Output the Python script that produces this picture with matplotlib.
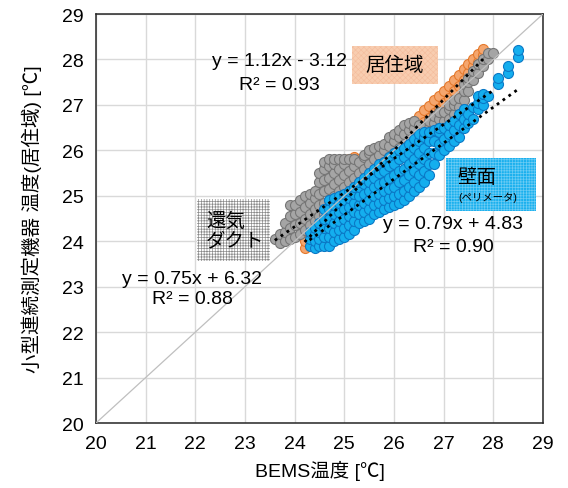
import numpy as np
import matplotlib.pyplot as plt
from matplotlib.patches import Rectangle

plt.rcParams['font.family'] = ['Liberation Sans', 'Noto Sans CJK JP']

# --- data (BEMS temp -> logger temp), grouped by BEMS column ---
orange_cols = [24.2, 24.3, 24.4, 24.5, 24.6, 24.7, 24.8, 24.9, 25.0, 25.1, 25.2, 25.3,
               25.4, 25.5, 25.6, 25.7, 25.8, 25.9, 26.0, 26.1, 26.2, 26.3, 26.4, 26.5,
               26.6, 26.7, 26.8, 26.9, 27.0, 27.1, 27.2, 27.3, 27.4, 27.5, 27.6, 27.7, 27.8]
orange_vals = [[23.85, 24.0], [23.9, 24.1], [24.05, 24.25], [24.2, 24.4], [24.3, 24.55],
               [24.45, 24.65], [24.55, 24.8], [24.3, 24.65, 24.95], [24.8, 25.1],
               [25.0, 25.3, 25.8], [25.1, 25.4, 25.85], [25.25, 25.55, 25.8],
               [25.35, 25.55], [25.45, 25.65], [25.55, 25.75], [25.6, 25.85], [25.7, 25.95],
               [25.75, 26.05], [25.85, 26.15], [25.95, 26.25], [26.05, 26.35], [26.15, 26.5],
               [26.4, 26.65], [26.5, 26.75], [26.62, 26.88], [26.72, 26.98], [26.82, 27.1],
               [26.92, 27.2], [27.05, 27.3], [27.15, 27.42], [27.3, 27.55], [27.42, 27.65],
               [27.55, 27.78], [27.7, 27.9], [27.85, 28.02], [27.95, 28.12], [28.1, 28.22]]

gray_cols = [23.6, 23.7, 23.8, 23.9, 24.0, 24.1, 24.2, 24.3, 24.4, 24.5, 24.6, 24.7,
             24.8, 24.9, 25.0, 25.1, 25.2, 25.3, 25.4, 25.5, 25.6, 25.7, 25.8, 25.9,
             26.0, 26.1, 26.2, 26.3, 26.4, 26.5, 26.6, 26.7, 26.8, 26.9, 27.0, 27.1,
             27.2, 27.3, 27.4, 27.5, 27.6, 27.7, 27.8, 27.9, 28.0]
gray_vals = [[24.05], [23.95, 24.15], [24.0, 24.2, 24.4], [24.05, 24.3, 24.55, 24.8],
             [24.1, 24.35, 24.6, 24.8], [24.15, 24.4, 24.65, 24.9], [24.25, 24.5, 24.75, 25.0],
             [24.35, 24.6, 24.85, 25.05], [24.45, 24.7, 24.95, 25.1],
             [24.55, 24.8, 25.05, 25.3, 25.5], [24.6, 24.85, 25.1, 25.35, 25.6, 25.75],
             [24.65, 24.9, 25.15, 25.4, 25.65, 25.8], [24.75, 25.0, 25.25, 25.5, 25.7, 25.8],
             [24.85, 25.1, 25.35, 25.6, 25.8], [24.95, 25.2, 25.45, 25.7, 25.8],
             [25.05, 25.3, 25.55, 25.8], [25.15, 25.4, 25.65, 25.8], [25.25, 25.5, 25.75],
             [25.35, 25.6, 25.85, 25.9], [25.45, 25.7, 25.95, 26.0], [25.55, 25.8, 26.05],
             [25.65, 25.9, 26.1], [25.75, 26.0, 26.15], [25.85, 26.1, 26.3],
             [25.7, 25.95, 26.2, 26.35], [25.8, 26.05, 26.3, 26.45], [25.9, 26.15, 26.35, 26.55],
             [25.95, 26.2, 26.45, 26.6], [26.05, 26.3, 26.5, 26.65], [26.1, 26.35, 26.55],
             [26.15, 26.4, 26.5], [26.25, 26.5, 26.65], [26.4, 26.6, 26.75], [26.5, 26.7, 26.85],
             [26.65, 26.85], [26.7, 26.9, 27.0], [26.8, 27.0, 27.1], [26.95, 27.15],
             [27.1, 27.3, 27.45], [27.3, 27.5, 27.6], [27.55, 27.75], [27.7, 27.9],
             [27.85, 28.0], [28.0, 28.15], [28.15]]

blue_cols = [24.3, 24.4, 24.5, 24.6, 24.7, 24.8, 24.9, 25.0, 25.1, 25.2, 25.3, 25.4,
             25.5, 25.6, 25.7, 25.8, 25.9, 26.0, 26.1, 26.2, 26.3, 26.4, 26.5, 26.6,
             26.7, 26.8, 26.9, 27.0, 27.1, 27.2, 27.3, 27.4, 27.5, 27.6, 27.7, 27.8,
             27.9, 28.1, 28.3, 28.5]
blue_vals = [[23.9, 24.05, 24.2], [23.85, 24.0, 24.15, 24.3], [23.9, 24.05, 24.2, 24.4],
             [23.9, 24.1, 24.3, 24.5, 24.7], [23.9, 24.1, 24.3, 24.5, 24.7, 24.9],
             [24.0, 24.2, 24.4, 24.6, 24.8, 24.95], [24.05, 24.25, 24.45, 24.65, 24.85, 25.0],
             [24.1, 24.3, 24.5, 24.7, 24.9, 25.05], [24.15, 24.35, 24.55, 24.75, 24.95, 25.1],
             [24.25, 24.45, 24.65, 24.85, 25.05, 25.2], [24.4, 24.6, 24.8, 25.0, 25.2, 25.3],
             [24.45, 24.65, 24.85, 25.05, 25.25, 25.4], [24.5, 24.7, 24.9, 25.1, 25.3, 25.5],
             [24.6, 24.8, 25.0, 25.2, 25.4, 25.6], [24.65, 24.85, 25.05, 25.25, 25.5, 25.7],
             [24.7, 24.9, 25.1, 25.3, 25.55, 25.75], [24.75, 24.95, 25.15, 25.4, 25.65, 25.85],
             [24.8, 25.0, 25.2, 25.45, 25.7, 25.95], [24.85, 25.05, 25.3, 25.55, 25.8, 26.0],
             [24.9, 25.1, 25.35, 25.6, 25.85, 26.05], [25.0, 25.2, 25.45, 25.7, 25.95, 26.15],
             [25.1, 25.3, 25.55, 25.8, 26.05, 26.25], [25.2, 25.45, 25.7, 25.95, 26.2, 26.35],
             [25.3, 25.55, 25.8, 26.05, 26.3, 26.4], [25.45, 25.7, 25.95, 26.2, 26.4],
             [25.7, 25.95, 26.2, 26.45], [25.9, 26.15, 26.4, 26.5], [26.0, 26.25, 26.5],
             [26.1, 26.35, 26.55], [26.2, 26.45, 26.65], [26.3, 26.55, 26.8],
             [26.5, 26.7, 26.9], [26.6, 26.8], [26.7, 26.95], [26.9, 27.05, 27.2],
             [27.0, 27.15, 27.25], [27.2], [27.45, 27.6], [27.7, 27.85], [28.05, 28.2]]

# trendlines as printed on the chart: (slope, intercept, x range)
orange_fit = (1.12, -3.12, 24.2, 27.8)
gray_fit = (0.75, 6.32, 23.6, 28.0)
blue_fit = (0.79, 4.83, 24.3, 28.5)


def flatten(cols, vals):
    xs = np.repeat(cols, [len(v) for v in vals])
    ys = np.concatenate([np.array(v, dtype=float) for v in vals])
    return xs, ys


def pattern_box(ax, x, y, w, h, fc, hc, hatch, hlw):
    # hatch linewidth is picked up when the patch is created
    plt.rcParams['hatch.linewidth'] = hlw
    ax.add_patch(Rectangle((x, y), w, h, facecolor=fc, edgecolor=hc,
                           hatch=hatch, lw=0, zorder=3))


fig = plt.figure(figsize=(5.68, 4.89), dpi=100)
ax = fig.add_axes([96 / 568, 65 / 489, 447 / 568, 409 / 489])

ax.set_xlim(20, 29)
ax.set_ylim(20, 29)
ax.set_xticks(range(20, 30))
ax.set_yticks(range(20, 30))
ax.grid(True, color='#D9D9D9', lw=1, zorder=0)
ax.set_axisbelow(True)
ax.tick_params(length=0, labelsize=14, pad=9)
for s in ax.spines.values():
    s.set_color('#262626')
    s.set_linewidth(1.1)

# y = x reference
ax.plot([20, 29], [20, 29], color='#BFBFBF', lw=0.9, zorder=3)

series = [
    (orange_cols, orange_vals, '#F5A66E', '#E57A2E'),
    (gray_cols, gray_vals, '#A5A5A5', '#767676'),
    (blue_cols, blue_vals, '#14AEEE', '#0B79C6'),
]
for cols, vals, fc, ec in series:
    xs, ys = flatten(cols, vals)
    ax.scatter(xs, ys, s=52, facecolor=fc, edgecolor=ec, linewidths=0.8, zorder=2)

for a, b, x0, x1 in [orange_fit, gray_fit, blue_fit]:
    xx = np.array([x0, x1])
    ax.plot(xx, a * xx + b, color='black', lw=2, linestyle=(0, (1, 1.6)), zorder=4)

# labelled boxes
pattern_box(ax, 25.15, 27.46, 1.74, 0.84, '#F8CDB0', '#F4BC9C', 'xxxxxx', 0.4)
ax.text(26.02, 27.88, '居住域', fontsize=14, ha='center', va='center', zorder=5)

pattern_box(ax, 27.05, 24.66, 1.81, 1.17, '#1AB0EE', '#6CCCF4', '++++++', 0.5)
ax.text(27.67, 25.41, '壁面', fontsize=14, ha='center', va='center', zorder=5)
ax.text(27.89, 24.97, '(ペリメータ)', fontsize=7.5, ha='center', va='center', zorder=5)

pattern_box(ax, 22.03, 23.56, 1.47, 1.37, 'white', '#8A8A8A', '++++++', 0.5)
ax.text(22.22, 24.45, '還気', fontsize=14, ha='left', va='center', zorder=5)
ax.text(22.22, 24.01, 'ダクト', fontsize=14, ha='left', va='center', zorder=5)

# regression labels
ax.text(23.70, 27.97, 'y = 1.12x - 3.12', fontsize=14, ha='center', va='center', zorder=5)
ax.text(23.70, 27.44, 'R² = 0.93', fontsize=14, ha='center', va='center', zorder=5)
ax.text(21.94, 23.17, 'y = 0.75x + 6.32', fontsize=14, ha='center', va='center', zorder=5)
ax.text(21.95, 22.73, 'R² = 0.88', fontsize=14, ha='center', va='center', zorder=5)
ax.text(27.19, 24.38, 'y = 0.79x + 4.83', fontsize=14, ha='center', va='center', zorder=5)
ax.text(27.19, 23.89, 'R² = 0.90', fontsize=14, ha='center', va='center', zorder=5)

ax.set_xlabel('BEMS温度 [℃]', fontsize=14, labelpad=5)
ax.set_ylabel('小型連続測定機器 温度(居住域) [℃]', fontsize=14, labelpad=14)

fig.savefig('out.png', dpi=100)
